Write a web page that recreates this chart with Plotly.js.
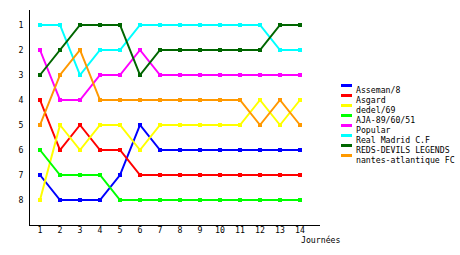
<!DOCTYPE html>
<html><head><meta charset="utf-8">
<script src="https://cdn.plot.ly/plotly-3.0.1.min.js"></script>
<style>html,body{margin:0;padding:0;background:#fff}#c{width:460px;height:255px}</style>
</head><body><div id="c"></div>
<script>
var journees = [1,2,3,4,5,6,7,8,9,10,11,12,13,14];
var teams = ["Asseman/8","Asgard","dedel/69","AJA-89/60/51","Popular","Real Madrid C.F","REDS-DEVILS LEGENDS","nantes-atlantique FC"];
var colors = ["#0000ff","#ff0000","#ffff00","#00ff00","#ff00ff","#00ffff","#006600","#ff9900"];
var asseman  = [7,8,8,8,7,5,6,6,6,6,6,6,6,6];
var asgard   = [4,6,5,6,6,7,7,7,7,7,7,7,7,7];
var dedel    = [8,5,6,5,5,6,5,5,5,5,5,4,5,4];
var aja      = [6,7,7,7,8,8,8,8,8,8,8,8,8,8];
var popular  = [2,4,4,3,3,2,3,3,3,3,3,3,3,3];
var real     = [1,1,3,2,2,1,1,1,1,1,1,1,2,2];
var reds     = [3,2,1,1,1,3,2,2,2,2,2,2,1,1];
var nantes   = [5,3,2,4,4,4,4,4,4,4,4,5,4,5];
var series = [asseman, asgard, dedel, aja, popular, real, reds, nantes];
var yTicks = [1,2,3,4,5,6,7,8];
var xLabel = "Journées";

var W=460,H=255,ml=30,mr=140,mt=10,mb=30;
var pw=W-ml-mr, ph=H-mt-mb;
function px(x){return (x-ml)/pw;}
function py(y){return 1-(y-mt)/ph;}
var font = {family:"DejaVu Sans Mono, monospace", size:8.2, color:"#000"};

var traces = series.map(function(s,i){
  return {x:journees, y:s, name:teams[i], type:"scatter", mode:"lines+markers",
    line:{color:colors[i], width:2}, marker:{color:colors[i], size:4, symbol:"square"},
    showlegend:false, hoverinfo:"none"};
});

var shapes=[], annotations=[];
teams.forEach(function(t,i){
  var yl = 85.5 + i*10;
  shapes.push({type:"line", xref:"paper", yref:"paper", x0:px(341), x1:px(352), y0:py(yl), y1:py(yl), line:{color:colors[i], width:3}});
  annotations.push({xref:"paper", yref:"paper", x:px(354), y:py(yl+4.5), text:t, showarrow:false, xanchor:"left", yanchor:"middle", font:font});
});
annotations.push({xref:"paper", yref:"paper", x:px(299), y:py(240), text:xLabel, showarrow:false, xanchor:"left", yanchor:"middle", font:font});

var layout = {
  width:W, height:H, margin:{l:ml,r:mr,t:mt,b:mb,pad:0},
  paper_bgcolor:"#fff", plot_bgcolor:"#fff", font:font, showlegend:false,
  xaxis:{range:[0.5,15], tickvals:journees, ticktext:journees.map(String), showgrid:false, zeroline:false,
    showline:true, linecolor:"#000", linewidth:1, ticks:"", tickfont:font, ticklabelstandoff:-3, fixedrange:true},
  yaxis:{range:[9,0.4], tickvals:yTicks, ticktext:yTicks.map(String), showgrid:false, zeroline:false,
    showline:true, linecolor:"#000", linewidth:1, ticks:"", tickfont:font, ticklabelstandoff:4, fixedrange:true},
  shapes:shapes, annotations:annotations
};
Plotly.newPlot("c", traces, layout, {staticPlot:true, displayModeBar:false});
</script></body></html>
